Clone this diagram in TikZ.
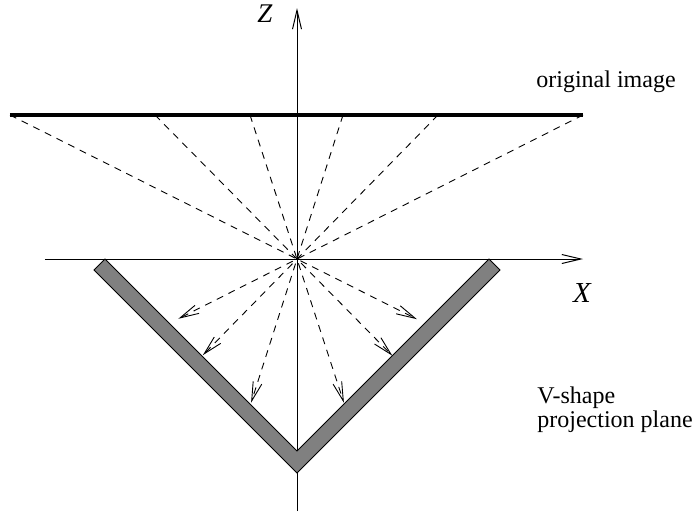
\documentclass[tikz,border=0pt]{standalone}
\usepackage{fontspec}
\setmainfont{Liberation Serif}
\usetikzlibrary{arrows.meta,positioning}
\tikzset{
    >={Straight Barb[length=9.5pt,width=4.5pt]},
    axis/.style={->, line width=0.5pt},
    imageplane/.style={line width=2pt},
    ray/.style={->, dash pattern=on 3.5pt off 3pt, line width=0.45pt},
    vplane/.style={fill=gray, draw=black, line width=0.5pt},
    axislabel/.style={inner sep=0pt},
    caption/.style={align=left, inner sep=0pt}
}

\begin{document}
\begin{tikzpicture}[x=0.5pt, y=0.5pt, font=\fontsize{12pt}{14pt}\selectfont]
    \useasboundingbox (-297,-252) rectangle (397,259);
    \coordinate (O) at (0,0);
    \coordinate (xstart) at (-252,0);
    \coordinate (xend) at (286,0);
    \coordinate (zstart) at (0,-252);
    \coordinate (zend) at (0,251);
    % axes
    \draw[axis] (xstart) -- (xend);
    \draw[axis] (zstart) -- (zend);
    \node[axislabel, font=\fontsize{13.5pt}{15pt}\selectfont\itshape] (zlabel) at (-32,245) {Z};
    \node[axislabel, font=\fontsize{14.5pt}{16pt}\selectfont\itshape] (xlabel) at (285,-34) {X};
    % V-shape projection plane
    \filldraw[vplane] (-192,0) -- (0,-192) -- (192,0) -- (203,-11) -- (0,-214) -- (-203,-11) -- cycle;
    % rays through the origin
    \foreach \name/\tx/\t in {a/-287/0.418, b/-142/0.672, c/-47/0.998, d/46/0.998, e/141/0.668, f/286/0.415} {
        \coordinate (top-\name) at (\tx,144);
        \coordinate (hit-\name) at ({-\t*\tx},{-144*\t});
        \draw[ray] (top-\name) -- (hit-\name);
    }
    % original image
    \draw[imageplane] (top-a) -- (top-f);
    \node[caption, anchor=base west] (origimg) at (239,171.5) {original image};
    \node[caption, anchor=north west] (vplanelbl) at (240,-127.3) {V-shape\\[-2pt]projection plane};
\end{tikzpicture}
\end{document}
